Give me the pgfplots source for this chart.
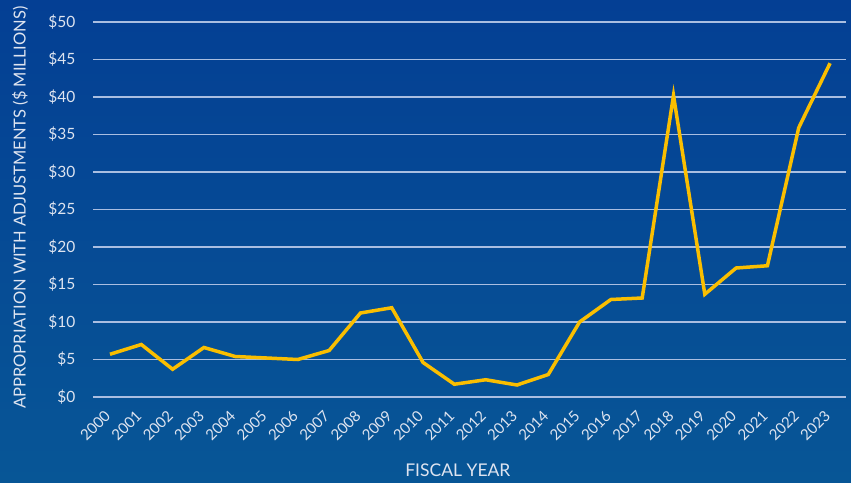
\documentclass[border=0pt]{standalone}
\usepackage{pgfplots}
\pgfplotsset{compat=1.18}
\usepackage{fontspec}
\setmainfont{Lato}
\definecolor{bgtop}{RGB}{4,63,148}
\definecolor{bgbot}{RGB}{7,86,150}
\definecolor{gridc}{RGB}{170,190,225}
\definecolor{txt}{RGB}{222,228,240}
\definecolor{gold}{RGB}{250,190,0}
\begin{document}
\begin{tikzpicture}
\shade[top color=bgtop, bottom color=bgbot] (0,0) rectangle (851pt,482pt);
\begin{axis}[
  at={(93pt,85pt)}, anchor=south west,
  scale only axis, width=753pt, height=375pt,
  xmin=1999.457, xmax=2023.51, ymin=0, ymax=50,
  axis line style={draw=none},
  ymajorgrids, major grid style={color=gridc, line width=1.1pt},
  major tick length=0pt,
  xtick={2000,...,2023},
  ytick={0,5,...,50},
  x tick label style={/pgf/number format/1000 sep={}},
  xticklabel style={rotate=45, anchor=east, font=\fontsize{15}{17}\selectfont, text=txt},
  xticklabel shift=14pt,
  yticklabel={\$\pgfmathprintnumber{\tick}},
  yticklabel style={anchor=east, font=\fontsize{15.5}{17}\selectfont, text=txt},
  yticklabel shift=14pt,
  /pgf/number format/assume math mode=true,
  xlabel={FISCAL YEAR},
  xlabel style={at={(axis description cs:0.4845,-0.195)}, anchor=center, font=\fontsize{17.5}{20}\selectfont, text=txt},
  ylabel={APPROPRIATION WITH ADJUSTMENTS (\$ MILLIONS)},
  ylabel style={at={(axis description cs:-0.0969,0.505)}, anchor=center, font=\fontsize{16.5}{19}\selectfont, text=txt},
  clip=false,
]
\addplot[color=gold, line width=3.5pt, line join=miter] coordinates {
(2000,5.7) (2001,7.0) (2002,3.7) (2003,6.6) (2004,5.4) (2005,5.2) (2006,5.0) (2007,6.2)
(2008,11.2) (2009,11.9) (2010,4.6) (2011,1.7) (2012,2.3) (2013,1.6) (2014,3.0) (2015,10.0)
(2016,13.0) (2017,13.2) (2018,40.2) (2019,13.7) (2020,17.2) (2021,17.5) (2022,35.9) (2023,44.5)
};
\end{axis}
\pgfresetboundingbox
\useasboundingbox (0,0) rectangle (851pt,482pt);
\end{tikzpicture}
\end{document}
